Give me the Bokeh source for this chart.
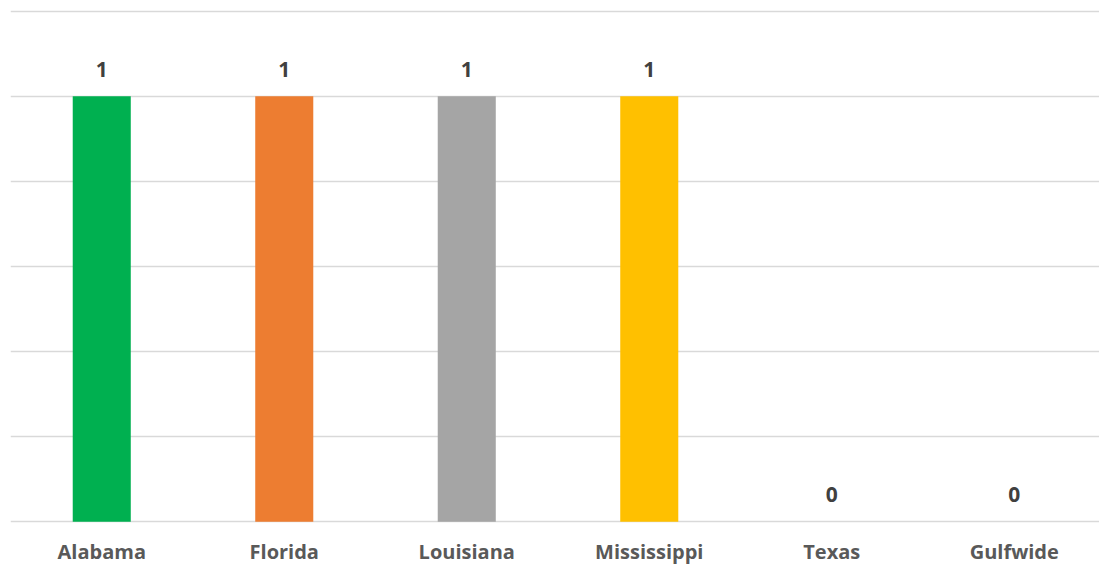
from bokeh.plotting import figure
from bokeh.models import ColumnDataSource, LabelSet, Range1d, FixedTicker
from bokeh.core.properties import value
from bokeh.embed import file_html
from bokeh.resources import INLINE

categories = ["Alabama", "Florida", "Louisiana", "Mississippi", "Texas", "Gulfwide"]
values = [1, 1, 1, 1, 0, 0]
colors = ["#00B050", "#ED7D31", "#A5A5A5", "#FFC000", "#4472C4", "#5B9BD5"]
label_text = [str(v) for v in values]
grid_ticks = [0, 0.2, 0.4, 0.6, 0.8, 1.0, 1.2]

xs = list(range(len(categories)))
src = ColumnDataSource(dict(x=xs, top=values, color=colors, label=label_text, cat=categories))

p = figure(width=1099, height=567, output_backend="svg", toolbar_location=None,
           x_range=Range1d(-0.5, 5.467), y_range=Range1d(-0.004, 1.204),
           min_border_left=10, min_border_right=0, min_border_top=9, min_border_bottom=42)
p.outline_line_color = None
p.background_fill_color = "white"
p.border_fill_color = "white"

p.vbar(x="x", top="top", width=0.318, fill_color="color", line_color=None, source=src)

labels = LabelSet(x="x", y="top", text="label", source=src, y_offset=27,
                  text_align="center", text_baseline="middle",
                  text_font=value("Open Sans"), text_font_style="bold",
                  text_font_size="21px", text_color="#404040")
p.add_layout(labels)

p.yaxis.visible = False
p.ygrid.ticker = FixedTicker(ticks=grid_ticks)
p.ygrid.grid_line_color = "#D9D9D9"
p.ygrid.grid_line_width = 1.5
p.xgrid.visible = False

p.xaxis.ticker = FixedTicker(ticks=xs)
p.xaxis.major_label_overrides = {i: c for i, c in zip(xs, categories)}
p.xaxis.axis_line_color = None
p.xaxis.major_tick_line_color = None
p.xaxis.minor_tick_line_color = None
p.xaxis.major_label_standoff = 8
p.xaxis.major_label_text_font = "Open Sans"
p.xaxis.major_label_text_font_style = "bold"
p.xaxis.major_label_text_font_size = "20px"
p.xaxis.major_label_text_color = "#595959"

open("out.html", "w").write(file_html(p, INLINE))
